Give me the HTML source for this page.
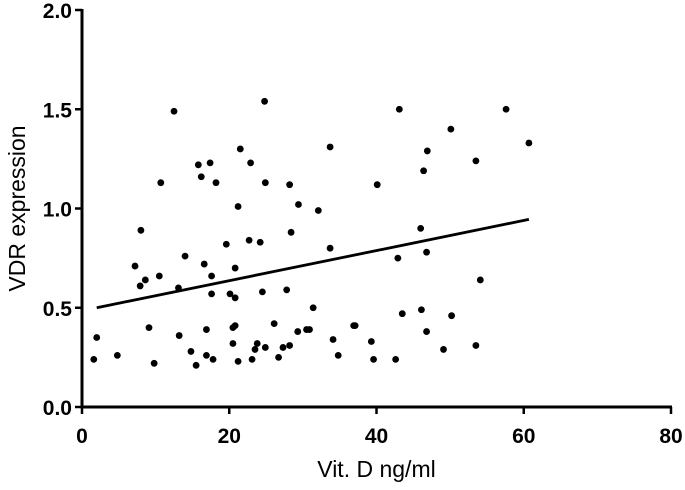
<!DOCTYPE html>
<html><head><meta charset="utf-8"><style>
html,body{margin:0;padding:0;background:#fff;}
svg{display:block;font-family:"Liberation Sans",Arial,sans-serif;}
</style></head><body>
<svg id="chart" width="685" height="490"></svg>
<script>
const xVals=[24.8,12.5,21.5,15.8,17.4,22.9,16.2,18.2,10.7,24.9,21.2,8.0,19.6,22.7,24.2,14.0,7.2,16.6,20.8,10.5,8.6,17.6,7.9,13.1,17.6,20.1,20.8,24.5,9.1,13.2,16.9,20.5,20.8,26.1,2.0,20.5,23.8,23.5,24.9,14.8,16.9,4.8,1.6,9.8,15.5,17.8,21.2,23.1,26.7,
43.1,57.6,50.1,60.7,33.7,46.9,53.5,46.4,28.2,40.1,29.4,32.1,28.4,46.0,33.7,46.8,42.9,54.1,27.8,31.4,43.5,46.1,50.2,29.3,30.5,30.9,36.9,37.1,46.8,34.1,39.3,53.5,27.3,28.2,34.8,39.6,42.6,49.1];
const yVals=[1.54,1.49,1.30,1.22,1.23,1.23,1.16,1.13,1.13,1.13,1.01,0.89,0.82,0.84,0.83,0.76,0.71,0.72,0.70,0.66,0.64,0.66,0.61,0.60,0.57,0.57,0.55,0.58,0.40,0.36,0.39,0.40,0.41,0.42,0.35,0.32,0.32,0.29,0.30,0.28,0.26,0.26,0.24,0.22,0.21,0.24,0.23,0.24,0.25,
1.50,1.50,1.40,1.33,1.31,1.29,1.24,1.19,1.12,1.12,1.02,0.99,0.88,0.90,0.80,0.78,0.75,0.64,0.59,0.50,0.47,0.49,0.46,0.38,0.39,0.39,0.41,0.41,0.38,0.34,0.33,0.31,0.30,0.31,0.26,0.24,0.24,0.29];
const lineX=[2.0,60.7];
const lineY=[0.50,0.945];
const xTicks=[0,20,40,60,80];
const yTicks=[0.0,0.5,1.0,1.5,2.0];
const X0=82,X1=671,Y0=407,Y1=10;
const sx=v=>X0+(v-0)/80*(X1-X0);
const sy=v=>Y0-(v-0)/2*(Y0-Y1);
const svg=document.getElementById('chart');
const NS='http://www.w3.org/2000/svg';
function mk(t,a){const e=document.createElementNS(NS,t);for(const k in a)e.setAttribute(k,a[k]);svg.appendChild(e);return e;}
let e;
e=mk('line',{x1:X0,y1:Y1-1,x2:X0,y2:Y0+1.5,stroke:'#000','stroke-width':3});


e=mk('line',{x1:X0-1.5,y1:Y0,x2:X1+1,y2:Y0,stroke:'#000','stroke-width':3});


xTicks.forEach(t=>{
 e=mk('line',{x1:sx(t),y1:Y0,x2:sx(t),y2:Y0+7,stroke:'#000','stroke-width':2.5});
 
 
 e=mk('text',{x:sx(t),y:Y0+36,'text-anchor':'middle','font-size':21,'font-weight':'bold'});
 e.textContent=String(t);
 
 
});
yTicks.forEach(t=>{
 e=mk('line',{x1:X0-7,y1:sy(t),x2:X0,y2:sy(t),stroke:'#000','stroke-width':2.5});
 
 
 e=mk('text',{x:X0-10,y:sy(t)+8,'text-anchor':'end','font-size':21,'font-weight':'bold'});
 e.textContent=t.toFixed(1);
 
 
});
xVals.forEach((v,i)=>{
 e=mk('circle',{cx:sx(v),cy:sy(yVals[i]),r:3.4,fill:'#000'});
 
 
});
e=mk('line',{x1:sx(lineX[0]),y1:sy(lineY[0]),x2:sx(lineX[1]),y2:sy(lineY[1]),stroke:'#000','stroke-width':2.8});


e=mk('text',{x:(X0+X1)/2,y:477,'text-anchor':'middle','font-size':23});
e.textContent='Vit. D ng/ml';


e=mk('text',{x:0,y:0,'text-anchor':'middle','font-size':23,transform:'translate(25,'+((Y0+Y1)/2)+') rotate(-90)'});
e.textContent='VDR expression';


</script>
</body></html>
